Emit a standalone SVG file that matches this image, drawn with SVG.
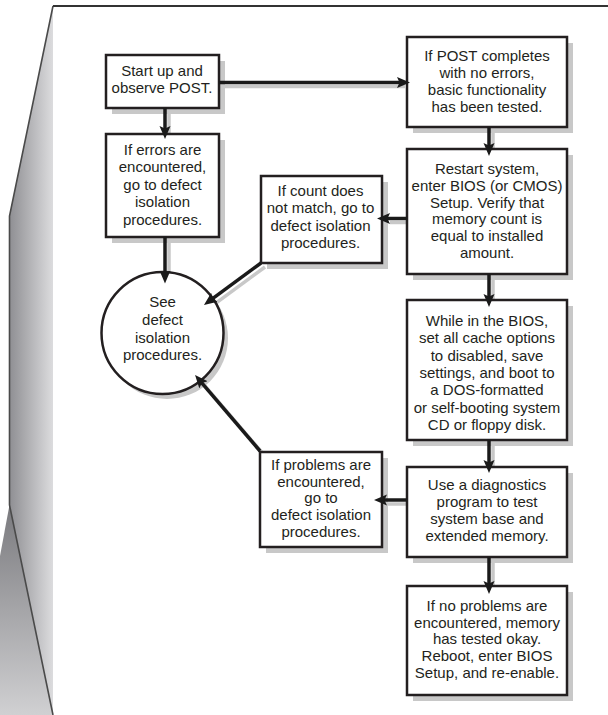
<svg xmlns="http://www.w3.org/2000/svg" width="608" height="715" viewBox="0 0 608 715">
<style>
.box{fill:#ffffff;stroke:#231f20;stroke-width:2.5}
.sh{fill:#c8c8c8;stroke:none}
.shl{fill:none;stroke:#c8c8c8;stroke-width:3.5}
.con{fill:none;stroke:#1a1a1a;stroke-width:3.5;marker-end:url(#ah)}
text{font-family:"Liberation Sans",Arial,Helvetica,sans-serif;font-size:15px;fill:#231f20;text-anchor:middle}
</style>
<defs>
<linearGradient id="fold" gradientUnits="userSpaceOnUse" x1="9" y1="0" x2="53" y2="0">
<stop offset="0" stop-color="#8e8e92"/>
<stop offset="1" stop-color="#dcdcde"/>
</linearGradient>
<linearGradient id="under" gradientUnits="userSpaceOnUse" x1="0" y1="505" x2="0" y2="715">
<stop offset="0" stop-color="#7a7a7e"/>
<stop offset="1" stop-color="#d0d0d2"/>
</linearGradient>
<marker id="ah" markerUnits="userSpaceOnUse" markerWidth="13" markerHeight="12" refX="4" refY="6" orient="auto" viewBox="0 0 13 12">
<path d="M0,0.5 L13,6 L0,11.5 L2.5,6 Z" fill="#1a1a1a"/>
</marker>
</defs>

<g id="page">
<polygon points="53,6 9.5,216 9.5,505 53,715" fill="url(#fold)"/>
<polygon points="9.5,505 0,556 0,715 53,715" fill="url(#under)"/>
<path d="M53,6 L9.5,216 L9.5,505 L53,715" fill="none" stroke="#4a4a4a" stroke-width="1.6"/>
<path d="M53,6 H608" fill="none" stroke="#333333" stroke-width="2"/>
</g>

<g id="shadows">
<rect class="sh" x="112" y="61" width="113" height="53"/>
<rect class="sh" x="112" y="140" width="113" height="103"/>
<rect class="sh" x="267" y="182" width="121" height="87"/>
<rect class="sh" x="413" y="43" width="160" height="90"/>
<rect class="sh" x="413" y="155" width="160" height="125"/>
<rect class="sh" x="413" y="306" width="160" height="140"/>
<rect class="sh" x="413" y="473" width="160" height="90"/>
<rect class="sh" x="413" y="592" width="160" height="109"/>
<rect class="sh" x="266" y="458" width="122" height="95"/>
<circle class="sh" cx="167" cy="338" r="61"/>
<path class="shl" d="M223,86.5 H405"/>
<path class="shl" d="M169,112 V134"/>
<path class="shl" d="M493,131 V151"/>
<path class="shl" d="M411,222.5 H390"/>
<path class="shl" d="M493,278 V302"/>
<path class="shl" d="M493,444 V468"/>
<path class="shl" d="M493,561 V589"/>
<path class="shl" d="M411,504 H387"/>
<path class="shl" d="M169,241 V278"/>
<path class="shl" d="M265,267 L215.2,303.7"/>
<path class="shl" d="M264,455 L204.9,385.8"/>
</g>

<g id="node-start">
<rect class="box" x="106" y="55" width="113" height="53"/>
<text x="162" y="76">Start up and</text>
<text x="162" y="93.3">observe POST.</text>
</g>

<g id="node-errors">
<rect class="box" x="106" y="134" width="113" height="103"/>
<text x="162.5" y="154.5">If errors are</text>
<text x="162.5" y="172.1">encountered,</text>
<text x="162.5" y="189.7">go to defect</text>
<text x="162.5" y="207.3">isolation</text>
<text x="162.5" y="224.9">procedures.</text>
</g>

<g id="node-count">
<rect class="box" x="261" y="176" width="121" height="87"/>
<text x="320.5" y="196">If count does</text>
<text x="320.5" y="213.3">not match, go to</text>
<text x="320.5" y="230.6">defect isolation</text>
<text x="320.5" y="247.9">procedures.</text>
</g>

<g id="node-post">
<rect class="box" x="407" y="37" width="160" height="90"/>
<text x="487" y="60.7">If POST completes</text>
<text x="487" y="77.9">with no errors,</text>
<text x="487" y="95.1">basic functionality</text>
<text x="487" y="112.3">has been tested.</text>
</g>

<g id="node-restart">
<rect class="box" x="407" y="149" width="160" height="125"/>
<text x="487" y="174">Restart system,</text>
<text x="487" y="190.8">enter BIOS (or CMOS)</text>
<text x="487" y="207.6">Setup. Verify that</text>
<text x="487" y="224.4">memory count is</text>
<text x="487" y="241.2">equal to installed</text>
<text x="487" y="258">amount.</text>
</g>

<g id="node-while">
<rect class="box" x="407" y="300" width="160" height="140"/>
<text x="487" y="326">While in the BIOS,</text>
<text x="487" y="343.3">set all cache options</text>
<text x="487" y="360.6">to disabled, save</text>
<text x="487" y="377.9">settings, and boot to</text>
<text x="487" y="395.2">a DOS-formatted</text>
<text x="487" y="412.5">or self-booting system</text>
<text x="487" y="429.8">CD or floppy disk.</text>
</g>

<g id="node-use">
<rect class="box" x="407" y="467" width="160" height="90"/>
<text x="487" y="490">Use a diagnostics</text>
<text x="487" y="507">program to test</text>
<text x="487" y="524">system base and</text>
<text x="487" y="541">extended memory.</text>
</g>

<g id="node-final">
<rect class="box" x="407" y="586" width="160" height="109"/>
<text x="487" y="610.7">If no problems are</text>
<text x="487" y="627.5">encountered, memory</text>
<text x="487" y="644.3">has tested okay.</text>
<text x="487" y="661.1">Reboot, enter BIOS</text>
<text x="487" y="677.9">Setup, and re-enable.</text>
</g>

<g id="node-problems">
<rect class="box" x="260" y="452" width="122" height="95"/>
<text x="321" y="470">If problems are</text>
<text x="321" y="486.7">encountered,</text>
<text x="321" y="503.4">go to</text>
<text x="321" y="520.1">defect isolation</text>
<text x="321" y="536.8">procedures.</text>
</g>

<g id="node-see">
<circle class="box" cx="162.5" cy="333" r="61"/>
<text x="162.5" y="307">See</text>
<text x="162.5" y="324.8">defect</text>
<text x="162.5" y="342.6">isolation</text>
<text x="162.5" y="360.4">procedures.</text>
</g>

<g id="connectors">
<path class="con" d="M219,82.5 H401"/>
<path class="con" d="M165,108 V130"/>
<path class="con" d="M489,127 V147"/>
<path class="con" d="M407,218.5 H386"/>
<path class="con" d="M489,274 V298"/>
<path class="con" d="M489,440 V464"/>
<path class="con" d="M489,557 V585"/>
<path class="con" d="M407,500 H383"/>
<path class="con" d="M165,237 V274.5"/>
<path class="con" d="M261,263 L211.2,299.7"/>
<path class="con" d="M260,451 L200.9,381.8"/>
</g>
</svg>
